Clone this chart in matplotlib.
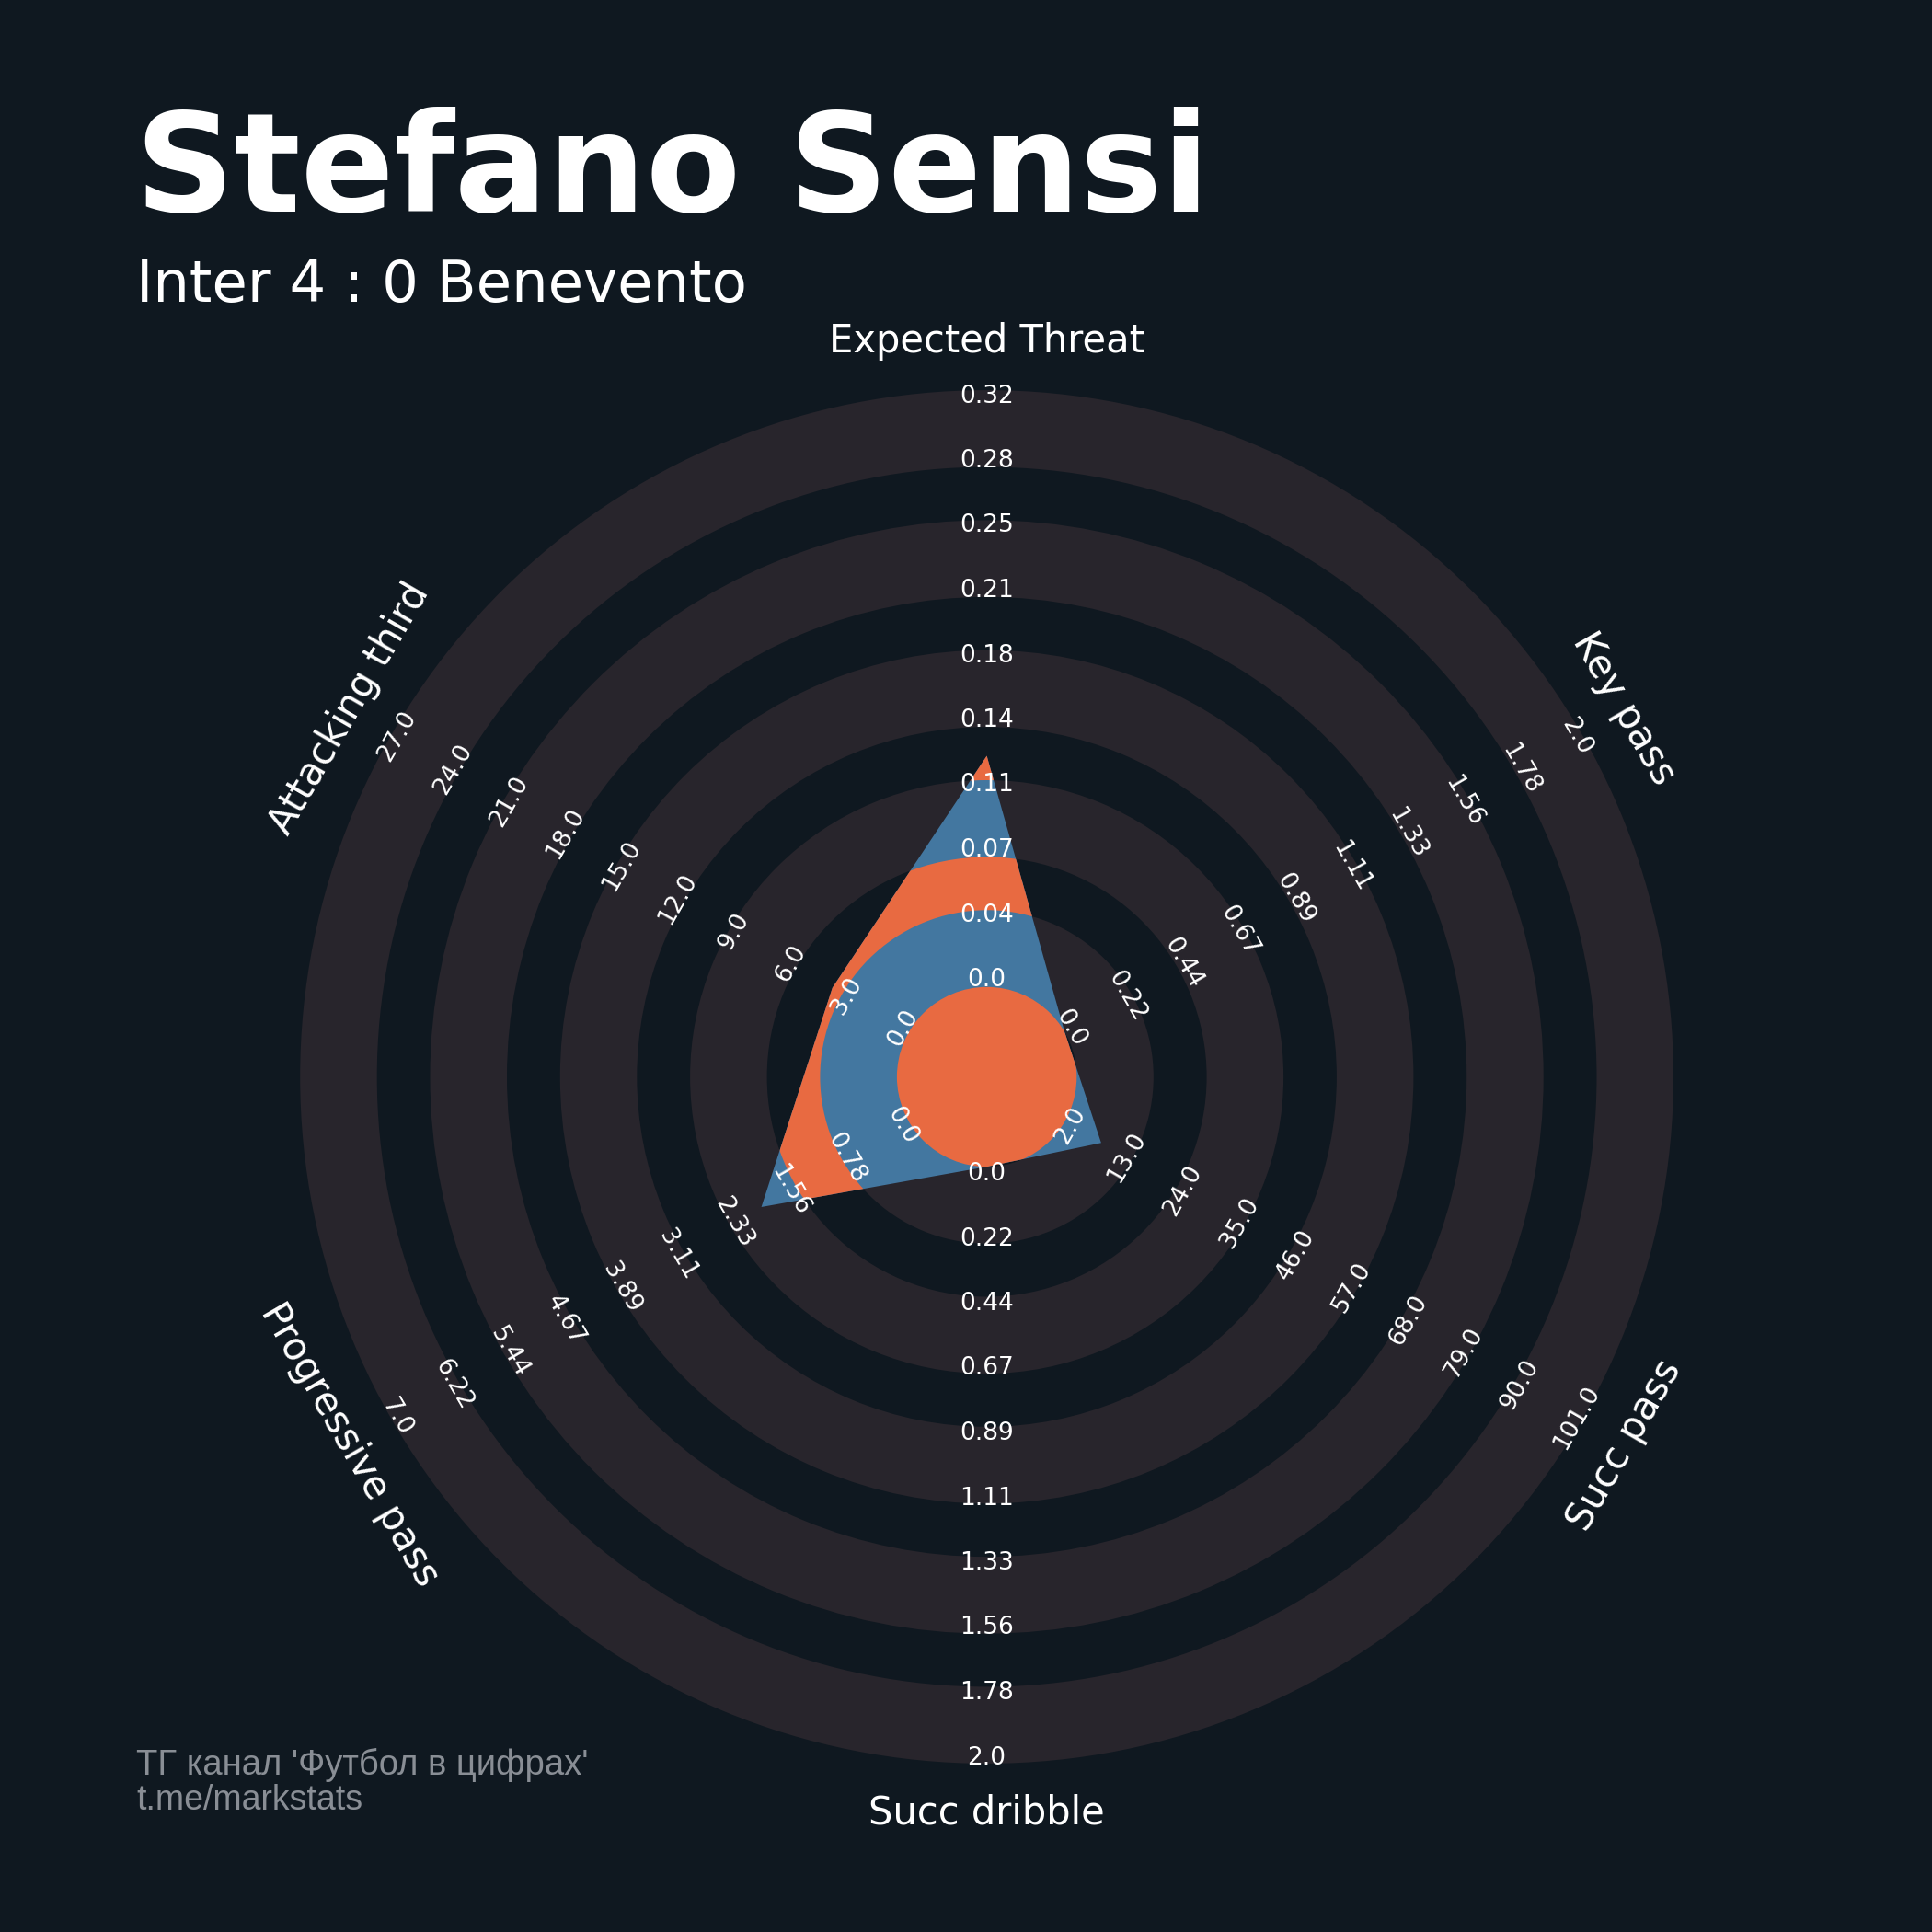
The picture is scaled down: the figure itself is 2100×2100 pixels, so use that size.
import numpy as np
import matplotlib
matplotlib.use("Agg")
import matplotlib.pyplot as plt
from matplotlib.patches import Wedge, Polygon, Circle

# data
params = ["Expected Threat", "Key pass", "Succ pass", "Succ dribble",
          "Progressive pass", "Attacking third"]
low = [0.0, 0.0, 2.0, 0.0, 0.0, 0.0]
high = [0.32, 2.0, 101.0, 2.0, 7.0, 27.0]
values = [0.124, 0.0, 9.0, 0.0, 2.0, 4.0]

title = "Stefano Sensi"
subtitle = "Inter 4 : 0 Benevento"
footer = ["ТГ канал 'Футбол в цифрах'", "t.me/markstats"]

BG = "#0f1820"
RING = "#28252c"
BLUE = "#4377a0"
ORANGE = "#e86a41"

# geometry in pixels
W = H = 2100
cx, cy = 1072.6, 1170.5
r_in = 97.7
r_out = 746.0
gray_w = 83.5
dark_w = 57.8

fig = plt.figure(figsize=(21, 21), dpi=100, facecolor=BG)
ax = fig.add_axes([0, 0, 1, 1])
ax.set_xlim(-cx, W - cx)
ax.set_ylim(-(H - cy), cy)
ax.set_aspect('equal')
ax.axis('off')
ax.set_facecolor(BG)

# background rings
gray = []
r = r_in
for i in range(5):
    gray.append((r, r + gray_w))
    r += gray_w + dark_w
for a, b in gray:
    ax.add_patch(Wedge((0, 0), b, 0, 360, width=b - a, facecolor=RING,
                       edgecolor='none', zorder=1))

# radar polygon
n = len(params)
angles = np.deg2rad(90 - 60 * np.arange(n))
lo = np.array(low)
hi = np.array(high)
radii = r_in + (np.array(values) - lo) / (hi - lo) * (r_out - r_in)
verts = np.column_stack([radii * np.cos(angles), radii * np.sin(angles)])
poly = Polygon(verts, closed=True, facecolor=BLUE, edgecolor='none', zorder=2)
ax.add_patch(poly)

# orange rings inside the polygon (in the gaps between gray rings)
inner = [Circle((0, 0), r_in, facecolor=ORANGE, edgecolor='none', zorder=3)]
for (a, b), (c, d) in zip(gray[:-1], gray[1:]):
    inner.append(Wedge((0, 0), c, 0, 360, width=c - b, facecolor=ORANGE,
                       edgecolor='none', zorder=3))
for p in inner:
    ax.add_patch(p)
    p.set_clip_path(poly)

# range labels
rots = [0, -60, 60, 0, -60, 60]
lab_r = np.linspace(105.5, 740, 10)
for i in range(n):
    ticks = np.round(np.linspace(low[i], high[i], 10), 2)
    for rr, t in zip(lab_r, ticks):
        ax.text(rr * np.cos(angles[i]), rr * np.sin(angles[i]), str(float(t)),
                rotation=rots[i], rotation_mode='anchor', ha='center',
                va='center', fontsize=19, color='white', zorder=5)

# param labels
for i in range(n):
    ax.text(800 * np.cos(angles[i]), 800 * np.sin(angles[i]), params[i],
            rotation=rots[i], rotation_mode='anchor', ha='center',
            va='center', fontsize=30, color='white', zorder=5)

fig.text(147 / W, 1 - 230 / H, title, fontsize=108, fontweight='bold',
         color='white', ha='left', va='baseline')
fig.text(148 / W, 1 - 328 / H, subtitle, fontsize=45, color='white',
         ha='left', va='baseline')
fig.text(148 / W, 1 - 1929 / H, footer[0], fontsize=27.5, color='#898e95',
         family='Liberation Sans', ha='left', va='baseline')
fig.text(148 / W, 1 - 1967 / H, footer[1], fontsize=27, color='#898e95',
         family='Liberation Sans', ha='left', va='baseline')

fig.savefig("out.png", dpi=100, facecolor=BG)
